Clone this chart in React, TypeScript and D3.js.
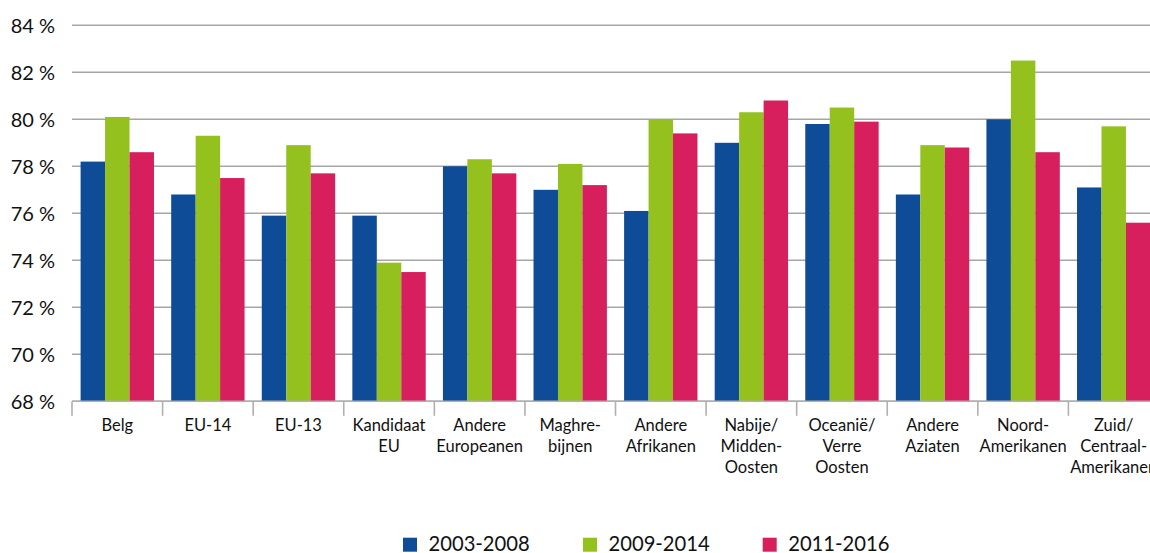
import React from "react";
import * as d3 from "d3";

const categories: string[][] = [
  ["Belg"],
  ["EU-14"],
  ["EU-13"],
  ["Kandidaat", "EU"],
  ["Andere", "Europeanen"],
  ["Maghre-", "bijnen"],
  ["Andere", "Afrikanen"],
  ["Nabije/", "Midden-", "Oosten"],
  ["Oceanië/", "Verre", "Oosten"],
  ["Andere", "Aziaten"],
  ["Noord-", "Amerikanen"],
  ["Zuid/", "Centraal-", "Amerikanen"],
];

const seriesNames = ["2003-2008", "2009-2014", "2011-2016"];
const seriesColors = ["#0f4c97", "#95c11f", "#d81f5e"];

const s2003 = [78.2, 76.8, 75.9, 75.9, 78.0, 77.0, 76.1, 79.0, 79.8, 76.8, 80.0, 77.1];
const s2009 = [80.1, 79.3, 78.9, 73.9, 78.3, 78.1, 80.0, 80.3, 80.5, 78.9, 82.5, 79.7];
const s2011 = [78.6, 77.5, 77.7, 73.5, 77.7, 77.2, 79.4, 80.8, 79.9, 78.8, 78.6, 75.6];
const seriesValues = [s2003, s2009, s2011];

const yTicks = [68, 70, 72, 74, 76, 78, 80, 82, 84];

const W = 1150;
const H = 553;
const left = 72;
const right = 1159;
const top = 25.3;
const bottom = 401.3;

export default function App() {
  const x = d3
    .scaleBand<number>()
    .domain(categories.map((_, i) => i))
    .range([left, right])
    .padding(0);
  const bw = x.bandwidth();
  const pad = bw * 0.095;
  const xs = d3
    .scaleBand<number>()
    .domain([0, 1, 2])
    .range([pad, bw - pad])
    .padding(0);
  const y = d3.scaleLinear().domain([68, 84]).range([bottom, top]);
  const font = "Lato, 'Open Sans', sans-serif";

  return (
    <div style={{ position: "fixed", left: 0, top: 0, width: W, height: H, background: "#fff" }}>
      <svg width={W} height={H} style={{ display: "block" }}>
        <rect width={W} height={H} fill="#fff" />
        {yTicks.map((t) => (
          <g key={t}>
            <line
              x1={left}
              x2={W}
              y1={y(t)}
              y2={y(t)}
              stroke="#a6a6a6"
              strokeWidth={1.6}
            />
            <text
              x={55}
              y={y(t)}
              dy="0.36em"
              textAnchor="end"
              fontFamily={font}
              fontSize={20}
              fill="#111"
            >
              {t} %
            </text>
          </g>
        ))}
        {seriesValues.map((vals, si) =>
          vals.map((v, ci) => (
            <rect
              key={`${si}-${ci}`}
              x={(x(ci) as number) + (xs(si) as number)}
              width={xs.bandwidth()}
              y={y(v)}
              height={y(68) - y(v)}
              fill={seriesColors[si]}
            />
          ))
        )}
        <line x1={left} x2={W} y1={y(68)} y2={y(68)} stroke="#b0b0b0" strokeWidth={1.6} />
        {d3.range(categories.length + 1).map((i) => {
          const tx = left + i * bw;
          return (
            <line key={i} x1={tx} x2={tx} y1={y(68)} y2={y(68) + 14.5} stroke="#b0b0b0" strokeWidth={1.6} />
          );
        })}
        {categories.map((lines, ci) => (
          <text
            key={ci}
            x={(x(ci) as number) + bw / 2}
            textAnchor="middle"
            fontFamily={font}
            fontSize={16.5}
            fill="#111"
          >
            {lines.map((ln, li) => (
              <tspan key={li} x={(x(ci) as number) + bw / 2} y={431 + li * 20.8}>
                {ln}
              </tspan>
            ))}
          </text>
        ))}
        {seriesNames.map((name, i) => {
          const lx = [403, 583, 762.7][i];
          return (
            <g key={name}>
              <rect x={lx} y={537.7} width={14} height={14} fill={seriesColors[i]} />
              <text x={lx + 25.5} y={551} fontFamily={font} fontSize={20.2} fill="#111">
                {name}
              </text>
            </g>
          );
        })}
      </svg>
    </div>
  );
}
